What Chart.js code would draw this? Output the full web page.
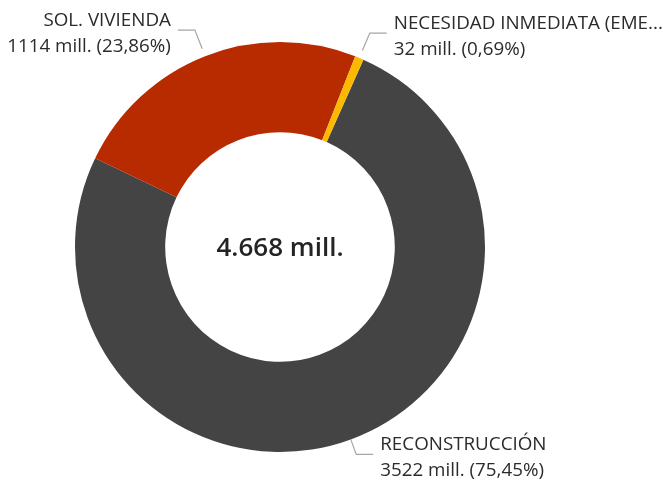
<!DOCTYPE html>
<html>
<head>
<meta charset="utf-8">
<script src="https://cdn.jsdelivr.net/npm/chart.js@4.4.1/dist/chart.umd.min.js"></script>
<style>
  body { margin: 0; background: #fff; }
  #wrap { width: 663px; height: 480px; }
</style>
</head>
<body>
<div id="wrap"><canvas id="myChartDona"></canvas></div>
<script>
// datos (millones)
const categorias = ["RECONSTRUCCIÓN", "SOL. VIVIENDA", "NECESIDAD INMEDIATA (EME..."];
const valores = [3522, 1114, 32];
const colores = ["#444444", "#B82A00", "#FDB900"];

// largo de las lineas guia (desde el borde exterior)
const guiaDesde = [0, 8, 8];
const guiaHasta = [16, 28, 27];

const fuente = '"Open Sans", "Noto Sans", sans-serif';

function miles(n) {
  // formato es: punto de miles
  return String(n).replace(/\B(?=(\d{3})+(?!\d))/g, ".");
}

const total = valores.reduce((a, b) => a + b, 0);

const etiquetas = {
  id: "etiquetas",
  afterDraw(chart) {
    const ctx = chart.ctx;
    const meta = chart.getDatasetMeta(0);
    ctx.save();
    meta.data.forEach((arc, i) => {
      const p = arc.getProps(["x", "y", "startAngle", "endAngle", "outerRadius"], true);
      const a = (p.startAngle + p.endAngle) / 2;
      const cos = Math.cos(a), sin = Math.sin(a);
      const x0 = p.x + cos * (p.outerRadius + guiaDesde[i]);
      const y0 = p.y + sin * (p.outerRadius + guiaDesde[i]);
      const x1 = p.x + cos * (p.outerRadius + guiaHasta[i]);
      const y1 = p.y + sin * (p.outerRadius + guiaHasta[i]);
      const der = cos >= 0;
      const x2 = x1 + (der ? 17 : -17);

      ctx.strokeStyle = "#A6A6A6";
      ctx.lineWidth = 1.2;
      ctx.beginPath();
      ctx.moveTo(x0, y0);
      ctx.lineTo(x1, y1);
      ctx.lineTo(x2, y1);
      ctx.stroke();

      const pct = (valores[i] / total * 100).toFixed(2).replace(".", ",");
      const tx = x2 + (der ? 7 : -7);
      ctx.fillStyle = "#2B2B2B";
      ctx.font = "18.8px " + fuente;
      ctx.textAlign = der ? "left" : "right";
      ctx.textBaseline = "alphabetic";
      ctx.fillText(categorias[i], tx, y1 - 4);
      ctx.fillText(valores[i] + " mill. (" + pct + "%)", tx, y1 + 22);
    });

    // total al centro
    const c = meta.data[0];
    ctx.fillStyle = "#252423";
    ctx.font = "600 26px " + fuente;
    ctx.textAlign = "center";
    ctx.textBaseline = "alphabetic";
    ctx.fillText(miles(total) + " mill.", c.x, c.y + 9);
    ctx.restore();
  },
};

const dataDona = {
  labels: categorias,
  datasets: [
    {
      data: valores,
      backgroundColor: colores,
      borderWidth: 0,
    },
  ],
};

const configDona = {
  type: "doughnut",
  data: dataDona,
  options: {
    responsive: true,
    maintainAspectRatio: false,
    animation: false,
    rotation: 24,
    cutout: "56%",
    layout: { padding: { left: 75, right: 178, top: 42, bottom: 28 } },
    plugins: {
      legend: { display: false },
      tooltip: { enabled: false },
    },
  },
  plugins: [etiquetas],
};

const myChartDona = new Chart(document.getElementById("myChartDona"), configDona);
</script>
</body>
</html>
